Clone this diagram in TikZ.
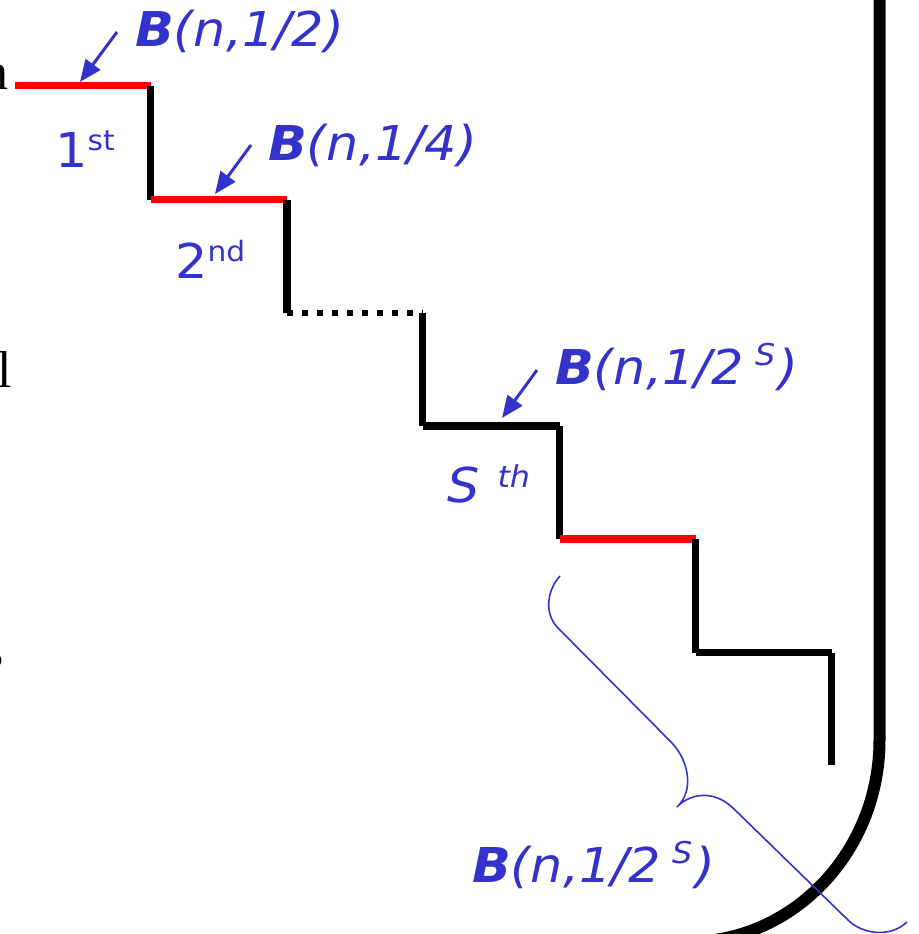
\documentclass[tikz,border=0pt]{standalone}
\usepackage{fontspec}
\setmainfont{Liberation Serif}
\newfontfamily\vf[FakeStretch=1.06]{DejaVu Sans}
\usetikzlibrary{arrows.meta}
\definecolor{lblue}{RGB}{51,51,204}
\definecolor{lred}{RGB}{255,0,0}
\begin{document}
\begin{tikzpicture}[x=1pt,y=-1pt,
  stair/.style={line width=7.5pt},
  hl/.style={line width=7.5pt, draw=lred},
  dotline/.style={line width=6pt, dash pattern=on 6pt off 9pt},
  lbl/.style={text=lblue, inner sep=0pt, anchor=base west, font=\vf\itshape\fontsize{48}{56}\selectfont},
  ord/.style={text=lblue, inner sep=0pt, anchor=base west, font=\vf\fontsize{48}{56}\selectfont},
  cut/.style={inner sep=0pt, anchor=base east, font=\fontsize{52}{60}\selectfont},
  ptr/.style={draw=lblue, line width=3pt, -{Triangle[length=22pt,width=18pt]}},
  bracepath/.style={draw=lblue, line width=1.6pt},
  frame/.style={line width=12pt}]
\useasboundingbox (0,0) rectangle (918,934);
\clip (0,0) rectangle (918,934);

% cut-off text at the left edge
\node[cut] (w1) at (9,89) {n};
\node[cut] (w2) at (12,387) {l};
\node[cut] (w3) at (4,667) {s};

% staircase corners
\coordinate (a0) at (15,85.5);
\coordinate (a1) at (150.5,85.5);
\coordinate (a2) at (150.5,199.5);
\coordinate (a3) at (287,199.5);
\coordinate (a4) at (287,312.5);
\coordinate (a5) at (422.5,312.5);
\coordinate (a6) at (422.5,426);
\coordinate (a7) at (559.5,426);
\coordinate (a8) at (559.5,539);
\coordinate (a9) at (695.5,539);
\coordinate (a10) at (695.5,652.5);
\coordinate (a11) at (831.5,652.5);
\coordinate (a12) at (831.5,765);

\draw[hl] (a0) -- (a1);
\draw[stair] (a1) -- (a2);
\draw[hl] (a2) -- (a3);
\draw[stair] (a3) -- (a4);
\draw[dotline] (a4) -- (a5);
\draw[stair] (a5) -- (a6);
\draw[stair] (a6) -- (a7);
\draw[stair] (a7) -- (a8);
\draw[hl] (a8) -- (a9);
\draw[stair] (a9) -- (a10);
\draw[stair] (a10) -- (a11);
\draw[stair] (a11) -- (a12);

% big frame curve
\coordinate (r0) at (879.5,-20);
\coordinate (r1) at (879.5,740);
\coordinate (r2) at (688,942);
\draw[frame] (r0) -- (r1) .. controls (879.5,851.5) and (793.5,942) .. (r2) -- (600,942);

% brace
\coordinate (b0) at (560,576);
\coordinate (b1) at (560,630);
\coordinate (b2) at (672,743);
\coordinate (b3) at (677,807);
\coordinate (b4) at (733,808);
\coordinate (b5) at (849,921);
\coordinate (b6) at (907,922);
\draw[bracepath] (b0) .. controls (547,590) and (543,615) .. (b1) -- (b2)
  .. controls (688,760) and (695,790) .. (b3)
  .. controls (688,795) and (712,788) .. (b4) -- (b5)
  .. controls (863,934) and (890,938) .. (b6);

% labels
\node[lbl] (t1) at (135,47) {\textbf{B}(n,1/2)};
\node[lbl] (t2) at (268,160) {\textbf{B}(n,1/4)};
\node[lbl] (t3) at (555,384) {\textbf{B}(n,1/2\kern11pt\raisebox{19pt}{\fontsize{30}{30}\selectfont S}\kern3pt)};
\node[lbl] (t4) at (472,882) {\textbf{B}(n,1/2\kern11pt\raisebox{19pt}{\fontsize{30}{30}\selectfont S}\kern3pt)};

\node[ord] (o1) at (55,167) {1\raisebox{17pt}{\fontsize{28}{30}\selectfont st}};
\node[ord] (o2) at (175,278) {2\raisebox{17pt}{\fontsize{28}{30}\selectfont nd}};
\node[lbl] (o3) at (447,502) {S\kern18pt\raisebox{15pt}{\fontsize{30}{30}\selectfont th}};

% pointers
\coordinate (p1s) at (117,32);
\coordinate (p1e) at (80,82);
\coordinate (p2s) at (251,145);
\coordinate (p2e) at (215,194);
\coordinate (p3s) at (537,370);
\coordinate (p3e) at (502,418);
\draw[ptr] (p1s) -- (p1e);
\draw[ptr] (p2s) -- (p2e);
\draw[ptr] (p3s) -- (p3e);
\end{tikzpicture}
\end{document}
